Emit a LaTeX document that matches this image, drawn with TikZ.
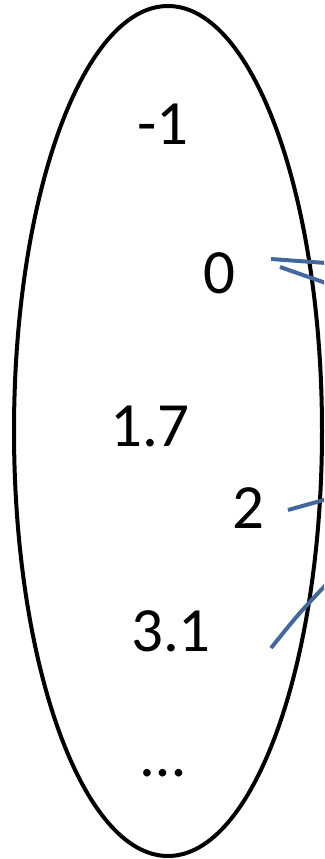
\documentclass[tikz,border=0pt]{standalone}
\usepackage{fontspec}
\setmainfont{Carlito}
\definecolor{mapblue}{RGB}{66,104,158}
\begin{document}
\begin{tikzpicture}[x=1pt, y=-1pt,
    elem/.style={font=\fontsize{63}{70}\selectfont, inner sep=0pt},
    maparrow/.style={mapblue, line width=4pt}]
    \clip (0,0) rectangle (324,859);
    \useasboundingbox (0,0) rectangle (324,859);

    % Domain set
    \draw[line width=4pt] (168,431) ellipse [x radius=154, y radius=425];

    % Elements
    \node[elem] (eMinusOne) at (163,124) {-1};
    \node[elem] (eZero) at (219,273) {0};
    \node[elem] (eOneSeven) at (150,426) {1.7};
    \node[elem] (eTwo) at (248,508) {2};
    \node[elem] (eThreeOne) at (171,631) {3.1};
    \node[elem] (eDots) at (163,773) {\dots};

    % Mapping lines
    \coordinate (zeroA) at (271,259);
    \coordinate (zeroB) at (280,267);
    \coordinate (twoA) at (288,510);
    \coordinate (threeA) at (271,648);
    \coordinate (outZeroA) at (340,264);
    \coordinate (outZeroB) at (340,288);
    \coordinate (outTwo) at (340,495.5);
    \coordinate (outThree) at (340,570);

    \draw[maparrow] (zeroA) -- (outZeroA);
    \draw[maparrow] (zeroB) -- (outZeroB);
    \draw[maparrow] (twoA) -- (outTwo);
    \draw[maparrow] (threeA) .. controls (300,612) .. (outThree);

\end{tikzpicture}
\end{document}
